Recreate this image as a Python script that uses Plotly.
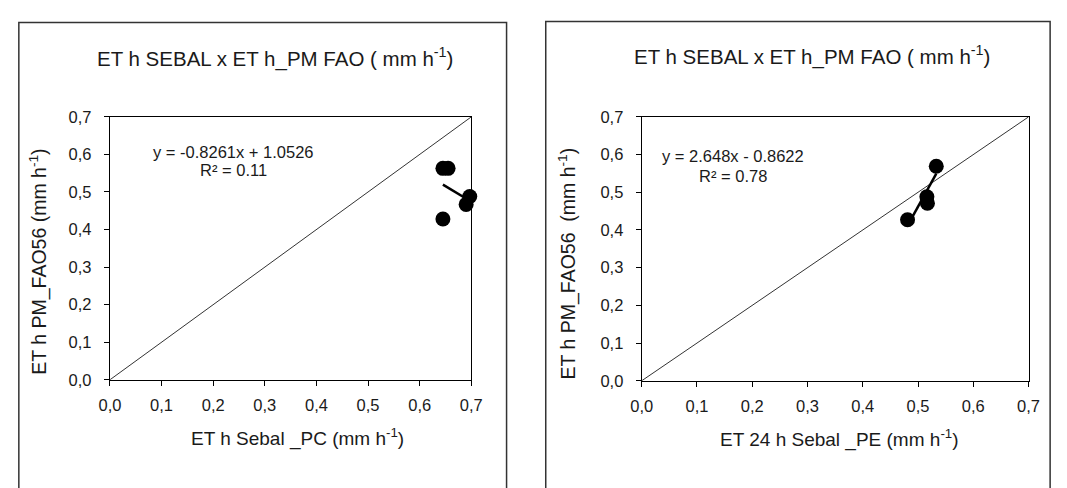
import plotly.graph_objects as go

# ---- data ----
pc_x = [0.645, 0.655, 0.645, 0.690, 0.697]
pc_y = [0.563, 0.563, 0.428, 0.467, 0.488]
pc_slope, pc_intercept, pc_r2 = -0.8261, 1.0526, 0.11

pe_x = [0.533, 0.516, 0.517, 0.481]
pe_y = [0.569, 0.488, 0.471, 0.427]
pe_slope, pe_intercept, pe_r2 = 2.648, -0.8622, 0.78

tick_vals = [0.0, 0.1, 0.2, 0.3, 0.4, 0.5, 0.6, 0.7]
tick_text = ["0,0", "0,1", "0,2", "0,3", "0,4", "0,5", "0,6", "0,7"]
identity = [0.0, 0.7]

W, H = 1067, 488
FONT = "Liberation Sans, Arial, sans-serif"
TXT = "#1a1a1a"

fig = go.Figure()

def add_panel(n, xs, ys, slope, intercept):
    xa = "x" if n == 1 else f"x{n}"
    ya = "y" if n == 1 else f"y{n}"
    fig.add_trace(go.Scatter(x=identity, y=identity, mode="lines",
                             line=dict(color="#333333", width=1),
                             xaxis=xa, yaxis=ya, showlegend=False, hoverinfo="skip"))
    lx = [min(xs), max(xs)]
    ly = [slope * v + intercept for v in lx]
    fig.add_trace(go.Scatter(x=xs, y=ys, mode="markers", cliponaxis=False,
                             marker=dict(color="black", size=15),
                             xaxis=xa, yaxis=ya, showlegend=False))
    fig.add_trace(go.Scatter(x=lx, y=ly, mode="lines", cliponaxis=False,
                             line=dict(color="black", width=2.5),
                             xaxis=xa, yaxis=ya, showlegend=False))

add_panel(1, pc_x, pc_y, pc_slope, pc_intercept)
add_panel(2, pe_x, pe_y, pe_slope, pe_intercept)

axis_common = dict(range=[0, 0.7], tickvals=tick_vals, ticktext=tick_text,
                   showgrid=False, zeroline=False, showline=True, linecolor="black",
                   linewidth=1.2, mirror=True, ticks="outside", ticklen=5,
                   tickcolor="black", tickfont=dict(family=FONT, size=16.5, color=TXT))

def px_x(p):
    return p / W

def px_y(p):
    return 1 - p / H

fig.update_layout(
    width=W, height=H,
    margin=dict(l=0, r=0, t=0, b=0),
    paper_bgcolor="white", plot_bgcolor="white",
    font=dict(family=FONT, color=TXT),
    xaxis=dict(domain=[px_x(101), px_x(470)], anchor="y", ticklabelstandoff=5, **axis_common),
    yaxis=dict(domain=[px_y(385), px_y(112)], anchor="x", ticklabelstandoff=9, **axis_common),
    xaxis2=dict(domain=[px_x(644), px_x(1039)], anchor="y2", ticklabelstandoff=5, **axis_common),
    yaxis2=dict(domain=[px_y(386), px_y(112)], anchor="x2", ticklabelstandoff=9, **axis_common),
)

shapes = [
    dict(type="rect", xref="paper", yref="paper", x0=px_x(8), x1=px_x(506),
         y0=px_y(500), y1=px_y(14), line=dict(color="#333333", width=1.5)),
    dict(type="rect", xref="paper", yref="paper", x0=px_x(546), x1=px_x(1061),
         y0=px_y(500), y1=px_y(13), line=dict(color="#333333", width=1.5)),
]
fig.update_layout(shapes=shapes)

def ann(x, y, text, size, angle=0):
    fig.add_annotation(x=px_x(x), y=px_y(y), xref="paper", yref="paper",
                       text=text, showarrow=False, textangle=angle,
                       font=dict(family=FONT, size=size, color=TXT),
                       xanchor="center", yanchor="middle")

title = "ET h SEBAL x ET h_PM FAO ( mm h<sup>-1</sup>)"
ann(270, 50, title, 20.5)
ann(818, 48, title, 20.5)
ann(28, 262, "ET h PM_FAO56 (mm h<sup>-1</sup>)", 19.5, -90)
ann(568, 264, "ET h PM_FAO56  (mm h<sup>-1</sup>)", 19.5, -90)
ann(293, 445, "ET h Sebal _PC (mm h<sup>-1</sup>)", 19)
ann(846, 446, "ET 24 h Sebal _PE (mm h<sup>-1</sup>)", 19)

ann(227, 148, f"y = {pc_slope}x + {pc_intercept}", 16.5)
ann(227, 167, f"R² = {pc_r2:.2f}", 16.5)
ann(737, 153, f"y = {pe_slope}x - {abs(pe_intercept)}", 16.5)
ann(737, 173, f"R² = {pe_r2:.2f}", 16.5)

fig.write_html("out.html")
